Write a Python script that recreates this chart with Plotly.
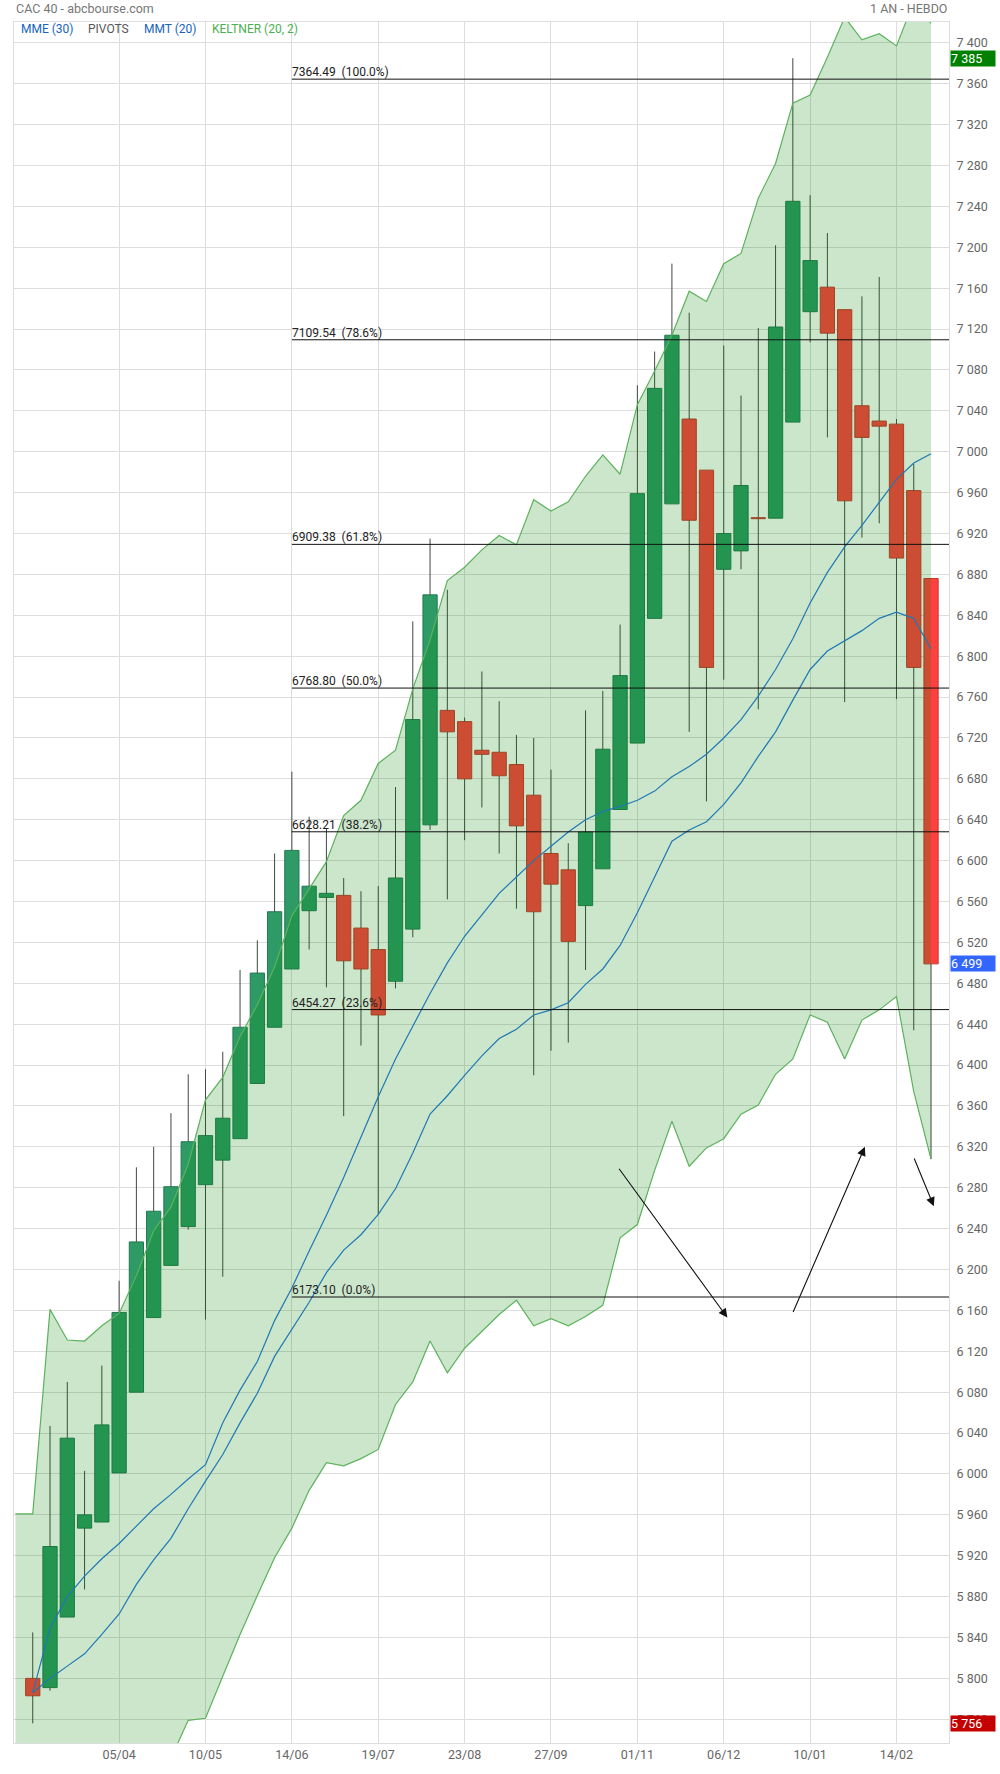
import plotly.graph_objects as go
import pandas as pd

# ---------------- data ----------------
weeks = pd.date_range("2021-03-01", periods=53, freq="W-MON")
week_labels = [d.strftime("%d/%m") for d in weeks]
x_tick_labels = ["05/04", "10/05", "14/06", "19/07", "23/08", "27/09",
                 "01/11", "06/12", "10/01", "14/02"]

opens = [5800, 5791, 5860, 5947, 5953, 6001, 6080, 6153, 6204, 6242,
         6283, 6307, 6328, 6382, 6437, 6494, 6551, 6564, 6566, 6534,
         6513, 6482, 6533, 6635, 6747, 6736, 6708, 6706, 6694, 6664,
         6607, 6591, 6556, 6592, 6650, 6715, 6837, 6949, 7032, 6982,
         6885, 6903, 6935.3, 6935, 7029, 7137, 7161, 7139, 7045, 7030,
         7027, 6962, 6876]
highs = [5845, 6047, 6090, 6003, 6106, 6189, 6300, 6320, 6353, 6391,
         6396, 6413, 6493, 6522, 6607, 6687, 6643, 6632, 6583, 6570,
         6575, 6672, 6834, 6915, 6865, 6740, 6785, 6756, 6723, 6720,
         6689, 6617, 6747, 6766, 6831, 7065, 7098, 7184, 7136, 6982,
         7104, 7055, 7121, 7202, 7385, 7251, 7214, 7139, 7152, 7171,
         7032, 6988, 6876]
lows = [5756, 5788, 5860, 5887, 5953, 6001, 6080, 6153, 6204, 6239,
        6151, 6193, 6328, 6382, 6437, 6494, 6513, 6476, 6350, 6419,
        6254, 6475, 6525, 6630, 6562, 6620, 6652, 6607, 6553, 6390,
        6414, 6422, 6493, 6592, 6650, 6715, 6837, 6949, 6726, 6658,
        6777, 6885, 6748, 6935, 7029, 7107, 7014, 6755, 6916, 6930,
        6758, 6434, 6308]
closes = [5783, 5929, 6035, 5960, 6048, 6158, 6227, 6257, 6281, 6325,
          6331, 6348, 6437, 6490, 6550, 6610, 6575, 6568, 6502, 6494,
          6449, 6583, 6738, 6860, 6726, 6680, 6704, 6683, 6634, 6550,
          6577, 6521, 6628, 6709, 6781, 6959, 7062, 7114, 6933, 6789,
          6920, 6967, 6934.5, 7122, 7245, 7187, 7116, 6952, 7014, 7025,
          6896, 6789, 6499]

# Keltner (20, 2): first value is the week before the first candle
keltner_upper = [5961, 5961, 6161, 6131, 6130, 6145, 6157, 6194, 6238, 6261,
                 6303, 6366, 6388, 6428, 6459, 6496, 6546, 6573, 6599, 6644,
                 6659, 6695, 6708, 6768, 6816, 6874, 6887, 6904, 6918, 6909,
                 6953, 6942, 6951, 6976, 6997, 6978, 7046, 7079, 7114, 7157,
                 7147, 7184, 7194, 7248, 7282, 7341, 7349, 7386, 7425, 7403,
                 7409, 7397, 7440, 7419]
keltner_lower = [5400, 5420, 5450, 5480, 5520, 5560, 5600, 5640, 5680, 5722,
                 5759, 5761, 5802, 5843, 5881, 5918, 5947, 5984, 6011, 6008,
                 6015, 6024, 6068, 6090, 6130, 6099, 6123, 6140, 6156, 6170,
                 6145, 6152, 6145, 6154, 6165, 6231, 6244, 6297, 6345, 6301,
                 6319, 6328, 6352, 6361, 6391, 6406, 6449, 6442, 6406, 6444,
                 6454, 6467, 6374, 6308]

mme30 = [5786, 5849, 5880, 5900, 5917, 5932, 5949, 5966, 5980, 5995,
         6009, 6050, 6082, 6110, 6150, 6182, 6218, 6253, 6290, 6330,
         6369, 6406, 6438, 6470, 6500, 6526, 6547, 6568, 6584, 6600,
         6614, 6628, 6640, 6648, 6653, 6659, 6668, 6682, 6692, 6704,
         6720, 6738, 6761, 6787, 6817, 6852, 6882, 6907, 6928, 6951,
         6973, 6989, 6998]
mmt20 = [5786, 5800, 5812, 5824, 5843, 5863, 5892, 5916, 5937, 5966,
         5993, 6019, 6050, 6079, 6115, 6142, 6168, 6197, 6219, 6234,
         6254, 6279, 6314, 6352, 6370, 6390, 6409, 6426, 6435, 6449,
         6454, 6461, 6479, 6494, 6517, 6549, 6584, 6619, 6630, 6638,
         6655, 6676, 6702, 6726, 6757, 6787, 6805, 6815, 6825, 6837,
         6843, 6837, 6807]

fib_levels = [7364.49, 7109.54, 6909.38, 6768.80, 6628.21, 6454.27, 6173.10]
fib_pcts = ["100.0%", "78.6%", "61.8%", "50.0%", "38.2%", "23.6%", "0.0%"]
fib_start_week = "14/06"

# hand-drawn trend arrows: (tail week pos, tail price, head week pos, head price)
trend_arrows = [(33.88, 6300, 40.21, 6153),
                (43.98, 6157, 48.17, 6320),
                (50.99, 6310, 52.16, 6262)]

y_tick_values = list(range(5760, 7401, 40))
price_tags = [(7385, "#008000"), (6499, "#3366ff"), (5756, "#c40000")]

title_left = "CAC 40 - abcbourse.com"
title_right = "1 AN - HEBDO"
legend_items = [("MME (30)", "#1565c0", 5), ("PIVOTS", "#555555", 72),
                ("MMT (20)", "#1565c0", 128), ("KELTNER (20, 2)", "#4caf50", 196)]

# ---------------- figure ----------------
FONT = "Roboto"
GREEN = "#2e9a66"
RED = "#ff4040"
X_RANGE = [-1.085, 53.04]
Y_RANGE = [5736.8, 7420.4]

idx = list(range(len(opens)))
band_x = list(range(-1, len(opens)))

fig = go.Figure()

# candle bodies
body_base = [min(o, c) for o, c in zip(opens, closes)]
body_h = [max(abs(c - o), 1.0) for o, c in zip(opens, closes)]
body_col = [GREEN if c >= o else RED for o, c in zip(opens, closes)]
body_line = ["#23794f" if c >= o else "#c4372c" for o, c in zip(opens, closes)]
fig.add_trace(go.Bar(x=idx, y=body_h, base=body_base, width=0.825,
                     marker=dict(color=body_col, line=dict(color=body_line, width=1)),
                     hoverinfo="skip"))

# wicks (outside bodies)
wx, wy = [], []
for i, (o, h, l, c) in enumerate(zip(opens, highs, lows, closes)):
    top, bot = max(o, c), min(o, c)
    if h > top:
        wx += [i, i, None]
        wy += [top, h, None]
    if l < bot:
        wx += [i, i, None]
        wy += [bot, l, None]
fig.add_trace(go.Scatter(x=wx, y=wy, mode="lines",
                         line=dict(color="#404840", width=1), hoverinfo="skip"))

# Keltner band
fig.add_trace(go.Scatter(x=band_x, y=keltner_upper, mode="lines",
                         line=dict(color="#5cb25c", width=1.2), hoverinfo="skip"))
fig.add_trace(go.Scatter(x=band_x, y=keltner_lower, mode="lines", fill="tonexty",
                         fillcolor="rgba(0,128,0,0.2)",
                         line=dict(color="#5cb25c", width=1.2), hoverinfo="skip"))

# moving averages
fig.add_trace(go.Scatter(x=idx, y=mme30, mode="lines",
                         line=dict(color="#1f78b4", width=1.2), hoverinfo="skip"))
fig.add_trace(go.Scatter(x=idx, y=mmt20, mode="lines",
                         line=dict(color="#1f78b4", width=1.2), hoverinfo="skip"))

# Fibonacci retracement lines
fib_x0 = week_labels.index(fib_start_week)
shapes = []
annotations = []
for lvl, pct in zip(fib_levels, fib_pcts):
    shapes.append(dict(type="line", xref="x", yref="y", x0=fib_x0, x1=X_RANGE[1],
                       y0=lvl, y1=lvl, line=dict(color="#111111", width=1), layer="above"))
    annotations.append(dict(xref="x", yref="y", x=fib_x0, y=lvl, xanchor="left",
                            yanchor="bottom", showarrow=False, borderpad=0,
                            text=f"{lvl:.2f}\u00a0\u00a0({pct})",
                            font=dict(family=FONT, size=12, color="#222222"),
                            xshift=-1, yshift=-1))

# arrows
for tx, ty, hx, hy in trend_arrows:
    annotations.append(dict(xref="x", yref="y", axref="x", ayref="y", x=hx, y=hy,
                            ax=tx, ay=ty, showarrow=True, arrowhead=2, arrowsize=1.6,
                            arrowwidth=1.1, arrowcolor="#111111", text=""))

# price tags on right axis
for val, col in price_tags:
    annotations.append(dict(xref="paper", yref="y", x=1, y=val, xanchor="left",
                            yanchor="middle", xshift=1, showarrow=False,
                            text=f"{val:,}".replace(",", " "), bgcolor=col,
                            width=44, height=15, align="left", borderpad=0,
                            font=dict(family=FONT, size=12.5, color="white")))

# header texts
annotations.append(dict(xref="paper", yref="paper", x=0, y=1, xanchor="left",
                        yanchor="middle", yshift=14, showarrow=False, text=title_left,
                        font=dict(family=FONT, size=12.5, color="#777777")))
annotations.append(dict(xref="paper", yref="paper", x=1, y=1, xanchor="right",
                        yanchor="middle", yshift=14, showarrow=False, text=title_right,
                        font=dict(family=FONT, size=12.5, color="#777777")))
for txt, col, off in legend_items:
    annotations.append(dict(xref="paper", yref="paper", x=0, y=1, xanchor="left",
                            yanchor="middle", xshift=off, yshift=-7, showarrow=False,
                            text=txt, font=dict(family=FONT, size=12, color=col)))

x_tick_vals = [week_labels.index(t) for t in x_tick_labels]
y_tick_text = [f"{v:,}".replace(",", " ") for v in y_tick_values]

fig.update_layout(
    width=1000, height=1774,
    margin=dict(l=14, r=48, t=22, b=23),
    paper_bgcolor="white", plot_bgcolor="white",
    showlegend=False, bargap=0,
    font=dict(family=FONT, size=12.5, color="#666666"),
    shapes=shapes, annotations=annotations,
    xaxis=dict(range=X_RANGE, tickmode="array", tickvals=x_tick_vals,
               ticktext=x_tick_labels, showgrid=True, gridcolor="#dddddd",
               gridwidth=1, zeroline=False, showline=True, linecolor="#dddddd",
               mirror=True, ticks="", tickfont=dict(family=FONT, size=12.5, color="#666666")),
    yaxis=dict(range=Y_RANGE, side="right", tickmode="array", tickvals=y_tick_values,
               ticktext=y_tick_text, showgrid=True, gridcolor="#dddddd", gridwidth=1,
               zeroline=False, showline=True, linecolor="#dddddd", mirror=True,
               ticks="", ticklabelstandoff=4,
               tickfont=dict(family=FONT, size=12.5, color="#666666")),
)

fig.write_html("out.html",
               config={"displayModeBar": False, "staticPlot": True},
               post_script="document.body.style.margin='0';document.body.style.overflow='hidden';")
